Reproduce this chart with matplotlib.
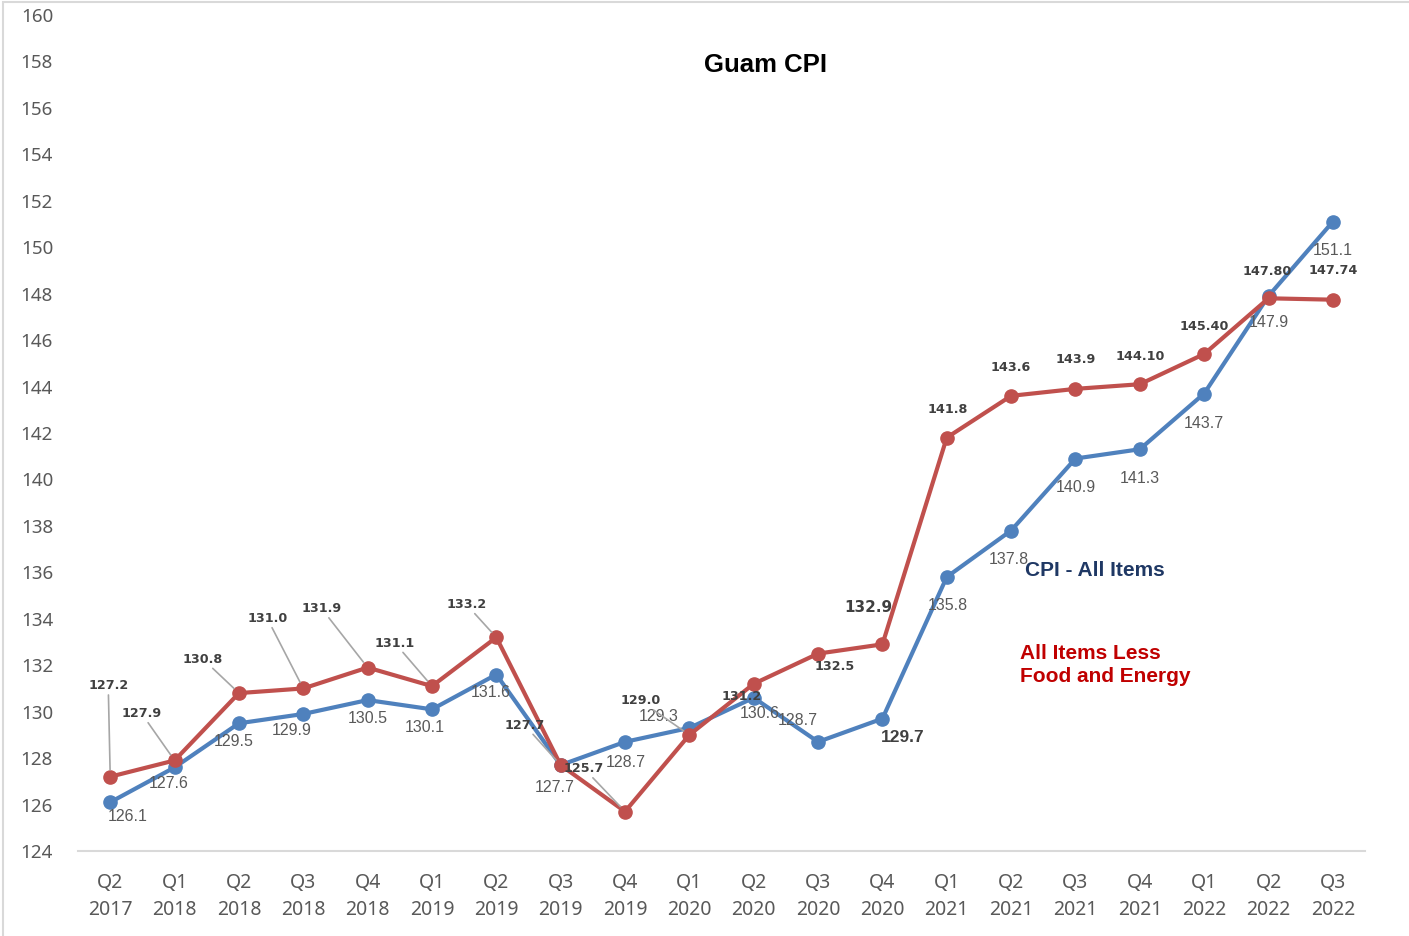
import matplotlib.pyplot as plt
import numpy as np

quarters = ['Q2\n2017', 'Q1\n2018', 'Q2\n2018', 'Q3\n2018', 'Q4\n2018', 'Q1\n2019', 'Q2\n2019',
            'Q3\n2019', 'Q4\n2019', 'Q1\n2020', 'Q2\n2020', 'Q3\n2020', 'Q4\n2020', 'Q1\n2021',
            'Q2\n2021', 'Q3\n2021', 'Q4\n2021', 'Q1\n2022', 'Q2\n2022', 'Q3\n2022']
cpi_all = [126.1, 127.6, 129.5, 129.9, 130.5, 130.1, 131.6, 127.7, 128.7, 129.3,
           130.6, 128.7, 129.7, 135.8, 137.8, 140.9, 141.3, 143.7, 147.9, 151.1]
cpi_core = [127.2, 127.9, 130.8, 131.0, 131.9, 131.1, 133.2, 127.7, 125.7, 129.0,
            131.2, 132.5, 132.9, 141.8, 143.6, 143.9, 144.10, 145.40, 147.80, 147.74]
core_labels = ['127.2', '127.9', '130.8', '131.0', '131.9', '131.1', '133.2', '127.7', '125.7', '129.0',
               '131.2', '132.5', '132.9', '141.8', '143.6', '143.9', '144.10', '145.40', '147.80', '147.74']

# label offsets in pixels (dx, dy with y down)
blue_off = [(17, 14), (-6, 16), (-5, 18), (-12, 17), (0, 18), (-7, 18), (-6, 18), (-6, 22), (1, 21),
            (-31, -11), (6, 16), (-20, -21), (20, 19), (1, 29), (-2, 29), (0, 29), (0, 29), (0, 30),
            (0, 27), (0, 29)]
red_off = [(-2, -91), (-33, -47), (-36, -34), (-36, -70), (-46, -59), (-37, -43), (-30, -33),
           (-36, -40), (-41, -43), (-49, -34), (-12, 13), (17, 13), (-14, -37), (1, -28), (0, -28),
           (0, -29), (0, -28), (0, -28), (-1, -27), (0, -29)]

blue = '#4F81BD'
red = '#C0504D'

fig = plt.figure(figsize=(14.09, 9.36), dpi=100)
ax = fig.add_axes([0.0554, 0.0908, 0.9134, 0.8932])

x = np.arange(len(quarters))
ax.plot(x, cpi_all, color=blue, lw=3, marker='o', ms=9.5, zorder=3)
ax.plot(x, cpi_core, color=red, lw=3, marker='o', ms=9.5, zorder=4)

ax.set_xlim(-0.5, len(quarters) - 0.5)
ax.set_ylim(124, 160)
ax.set_yticks(range(124, 161, 2))
ax.set_xticks(x)
ax.set_xticklabels(quarters, fontsize=14, color='#595959', family='Noto Sans', linespacing=1.45)
for t in ax.get_yticklabels():
    t.set_fontsize(13.5)
    t.set_color('#595959')
    t.set_family('Noto Sans')
ax.tick_params(axis='both', length=0)
ax.tick_params(axis='x', pad=16)
ax.tick_params(axis='y', pad=18)
for s in ['top', 'right', 'left']:
    ax.spines[s].set_visible(False)
ax.spines['bottom'].set_color('#D9D9D9')
ax.spines['bottom'].set_linewidth(1.5)

# blue data labels
for i, v in enumerate(cpi_all):
    dx, dy = blue_off[i]
    bold = i == 12
    ax.annotate(f'{v:.1f}', (i, v), xytext=(dx, -dy), textcoords='offset pixels',
                ha='center', va='center', fontsize=12.5 if bold else 11.5,
                fontweight='bold' if bold else 'normal',
                color='#404040' if bold else '#595959', family='Liberation Sans', zorder=5)

# red data labels with leader lines
for i, v in enumerate(cpi_core):
    dx, dy = red_off[i]
    big = i == 12
    props = None
    if np.hypot(dx, dy) > 40:
        props = dict(arrowstyle='-', color='#A6A6A6', lw=1.2, shrinkA=0, shrinkB=5)
    ax.annotate(core_labels[i], (i, v), xytext=(dx, -dy), textcoords='offset pixels',
                ha='center', va='center', fontsize=11 if big else 9.2, fontweight='bold',
                color='#404040', family='DejaVu Sans', arrowprops=props, zorder=6)

fig.text(0.543, 0.9306, 'Guam CPI', ha='center', va='center', fontsize=18.5,
         fontweight='bold', family='Liberation Sans', color='black')
fig.text(0.7275, 0.39, 'CPI - All Items', ha='left', va='center', fontsize=15,
         fontweight='bold', family='Liberation Sans', color='#1F3864')
fig.text(0.7240, 0.2895, 'All Items Less\nFood and Energy', ha='left', va='center', fontsize=15,
         fontweight='bold', family='Liberation Sans', color='#C00000', linespacing=1.25)

# light frame around the picture
fig.patches.append(plt.Rectangle((0.002, -0.01), 1.5, 1.008, transform=fig.transFigure,
                                 fill=False, edgecolor='#D9D9D9', lw=1.5))

fig.savefig('out.png', dpi=100)
